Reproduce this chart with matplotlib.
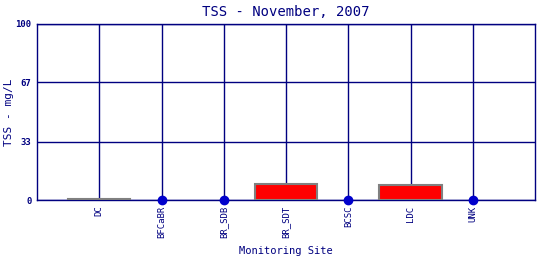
import matplotlib.pyplot as plt

sites = ["DC", "BFCaBR", "BR_SDB", "BR_SDT", "BCSC", "LDC", "UNK"]
tss = [0.4, None, None, 9.0, None, 8.4, None]
y_ticks = [0, 33, 67, 100]

NAVY = "#000080"
plt.rcParams['font.family'] = ['DejaVu Sans Mono']

fig = plt.figure(figsize=(5.4, 2.6), dpi=100)
ax = fig.add_axes([37 / 540, 60 / 260, 498 / 540, 176 / 260])

xs = list(range(len(sites)))
for x, v in zip(xs, tss):
    if v is None:
        ax.plot(x, 0, 'o', color="#0000CC", markersize=6, zorder=5, clip_on=False)
    else:
        ax.bar(x, v, width=1.0, color="#FF0000", edgecolor="#808080", linewidth=1.5, zorder=3)
# DC is tiny: draw as grey
ax.patches[0].set_facecolor("#808080")

ax.set_xlim(-1, len(sites))
ax.set_ylim(0, 100)
ax.set_xticks(xs)
ax.set_xticklabels(sites, rotation=90, fontsize=6.5, color=NAVY)
ax.set_yticks(y_ticks)
ax.set_yticklabels([str(t) for t in y_ticks], fontsize=6.5, color=NAVY, fontweight='bold')
ax.tick_params(length=0, pad=4)
ax.grid(True, color=NAVY, linewidth=1)
ax.set_axisbelow(True)
for s in ax.spines.values():
    s.set_color(NAVY)
    s.set_linewidth(1)

ax.set_title("TSS - November, 2007", fontsize=10, color=NAVY, pad=6)
ax.set_ylabel("TSS - mg/L", fontsize=8, color=NAVY)
ax.yaxis.set_label_coords(-23 / 498, 0.5)
ax.set_xlabel("Monitoring Site", fontsize=7.5, color=NAVY, labelpad=6)

fig.savefig("out.png", dpi=100)
